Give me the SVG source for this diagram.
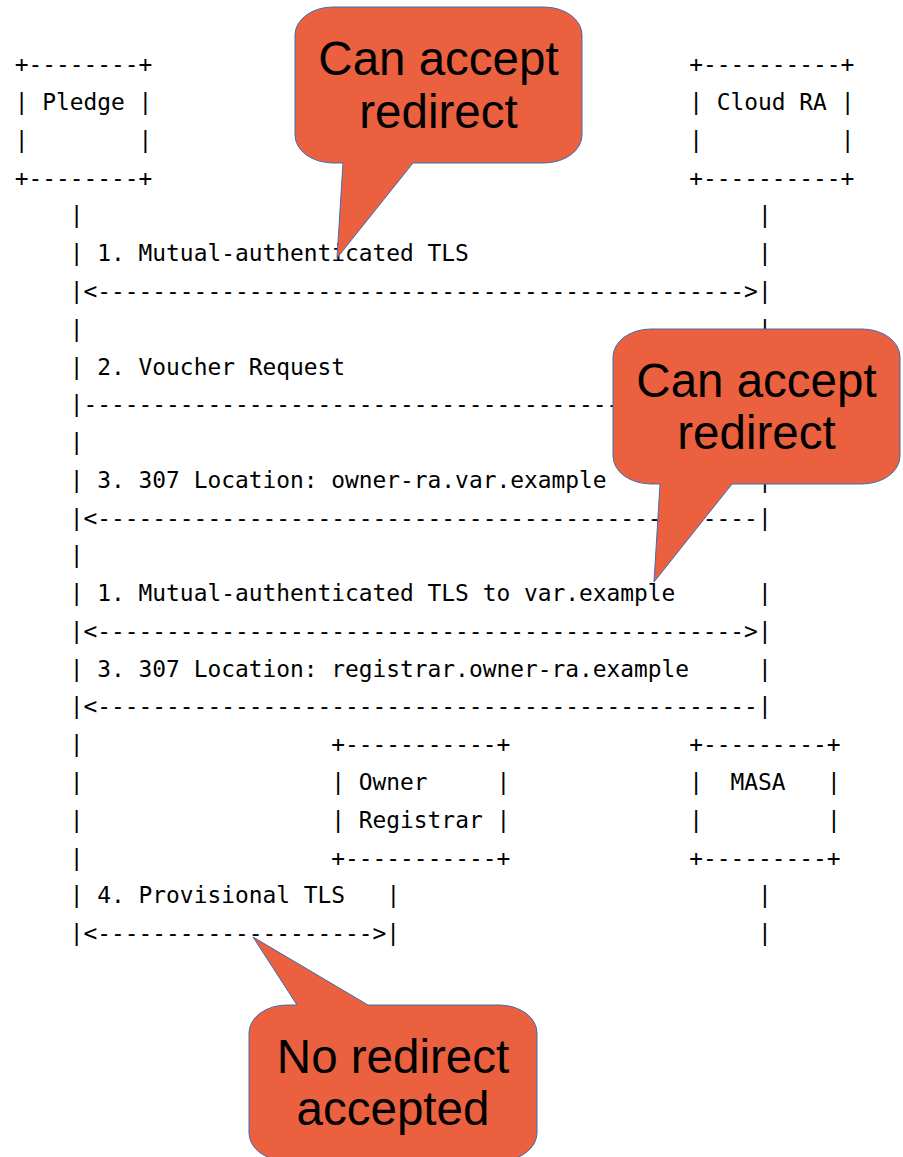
<svg xmlns="http://www.w3.org/2000/svg" width="903" height="1157" viewBox="0 0 903 1157">
<style>
.m{font-family:"DejaVu Sans Mono",monospace;font-size:22.865px;fill:#000;white-space:pre}
.co{fill:#EB603E;stroke:#3C6DB4;stroke-width:1}
.ct{font-family:"Liberation Sans",Arial,sans-serif;font-size:47.5px;fill:#000;text-anchor:middle}
</style>
<rect width="903" height="1157" fill="#fff"/>
<g id="pledge">
<text class="m" x="14.7" y="72.3">+--------+</text>
<text class="m" x="14.7" y="110.07">|</text>
<text class="m" x="42.2" y="110.07">Pledge</text>
<text class="m" x="138.6" y="110.07">|</text>
<text class="m" x="14.7" y="147.84">|</text>
<text class="m" x="138.6" y="147.84">|</text>
<text class="m" x="14.7" y="185.6">+--------+</text>
</g>
<g id="cloud-ra">
<text class="m" x="689.2" y="72.3">+----------+</text>
<text class="m" x="689.2" y="110.07">|</text>
<text class="m" x="716.7" y="110.07">Cloud RA</text>
<text class="m" x="840.7" y="110.07">|</text>
<text class="m" x="689.2" y="147.84">|</text>
<text class="m" x="840.7" y="147.84">|</text>
<text class="m" x="689.2" y="185.6">+----------+</text>
</g>
<g id="owner-registrar">
<text class="m" x="331.3" y="752.2">+-----------+</text>
<text class="m" x="331.3" y="789.9">|</text>
<text class="m" x="358.8" y="789.9">Owner</text>
<text class="m" x="496.5" y="789.9">|</text>
<text class="m" x="331.3" y="827.7">|</text>
<text class="m" x="358.8" y="827.7">Registrar</text>
<text class="m" x="496.5" y="827.7">|</text>
<text class="m" x="331.3" y="865.5">+-----------+</text>
</g>
<g id="masa">
<text class="m" x="689.2" y="752.2">+---------+</text>
<text class="m" x="689.2" y="789.9">|</text>
<text class="m" x="730.5" y="789.9">MASA</text>
<text class="m" x="826.9" y="789.9">|</text>
<text class="m" x="689.2" y="827.7">|</text>
<text class="m" x="826.9" y="827.7">|</text>
<text class="m" x="689.2" y="865.5">+---------+</text>
</g>
<g id="connectors">
<text class="m" x="69.76" y="223.4">|</text>
<text class="m" x="69.76" y="261.2">|</text>
<text class="m" x="97.3" y="261.2">1. Mutual-authenticated TLS</text>
<text class="m" x="69.76" y="298.9">|&lt;----------------------------------------------->|</text>
<text class="m" x="69.76" y="336.7">|</text>
<text class="m" x="69.76" y="374.5">|</text>
<text class="m" x="97.3" y="374.5">2. Voucher Request</text>
<text class="m" x="69.76" y="412.2">|---------------------------------------</text>
<text class="m" x="69.76" y="450.0">|</text>
<text class="m" x="69.76" y="487.8">|</text>
<text class="m" x="97.3" y="487.8">3. 307 Location: owner-ra.var.example</text>
<text class="m" x="69.76" y="525.5">|&lt;------------------------------------------------|</text>
<text class="m" x="69.76" y="563.3">|</text>
<text class="m" x="69.76" y="601.1">|</text>
<text class="m" x="97.3" y="601.1">1. Mutual-authenticated TLS to var.example</text>
<text class="m" x="69.76" y="638.9">|&lt;----------------------------------------------->|</text>
<text class="m" x="69.76" y="676.6">|</text>
<text class="m" x="97.3" y="676.6">3. 307 Location: registrar.owner-ra.example</text>
<text class="m" x="69.76" y="714.4">|&lt;------------------------------------------------|</text>
<text class="m" x="69.76" y="752.2">|</text>
<text class="m" x="69.76" y="789.9">|</text>
<text class="m" x="69.76" y="827.7">|</text>
<text class="m" x="69.76" y="865.5">|</text>
<text class="m" x="69.76" y="903.2">|</text>
<text class="m" x="97.3" y="903.2">4. Provisional TLS</text>
<text class="m" x="386.4" y="903.2">|</text>
<text class="m" x="69.76" y="941.0">|&lt;-------------------->|</text>
<text class="m" x="758.1" y="223.4">|</text>
<text class="m" x="758.1" y="261.2">|</text>
<text class="m" x="758.1" y="336.7">|</text>
<text class="m" x="758.1" y="487.8">|</text>
<text class="m" x="758.1" y="601.1">|</text>
<text class="m" x="758.1" y="676.6">|</text>
<text class="m" x="758.1" y="903.2">|</text>
<text class="m" x="758.1" y="941.0">|</text>
</g>
<g id="callout-1">
<path class="co" d="M333,7 H544 A38 28 0 0 1 582,35 V135 A38 28 0 0 1 544,163 H413 L337,258 L343,163 H333 A38 28 0 0 1 295,135 V35 A38 28 0 0 1 333,7 Z"/>
<text class="ct" x="438.5" y="75">Can accept</text>
<text class="ct" x="438.5" y="128.3">redirect</text>
</g>
<g id="callout-2">
<path class="co" d="M651,329 H862 A38 28 0 0 1 900,357 V456 A38 28 0 0 1 862,484 H732 L654,582 L660,484 H651 A38 28 0 0 1 613,456 V357 A38 28 0 0 1 651,329 Z"/>
<text class="ct" x="756.5" y="397.3">Can accept</text>
<text class="ct" x="756.5" y="449.3">redirect</text>
</g>
<g id="callout-3">
<path class="co" d="M287,1005 H297 L253,937 L368,1005 H499 A38 28 0 0 1 537,1033 V1133 A38 28 0 0 1 499,1161 H287 A38 28 0 0 1 249,1133 V1033 A38 28 0 0 1 287,1005 Z"/>
<text class="ct" x="393" y="1073.3">No redirect</text>
<text class="ct" x="393" y="1125">accepted</text>
</g>
</svg>
